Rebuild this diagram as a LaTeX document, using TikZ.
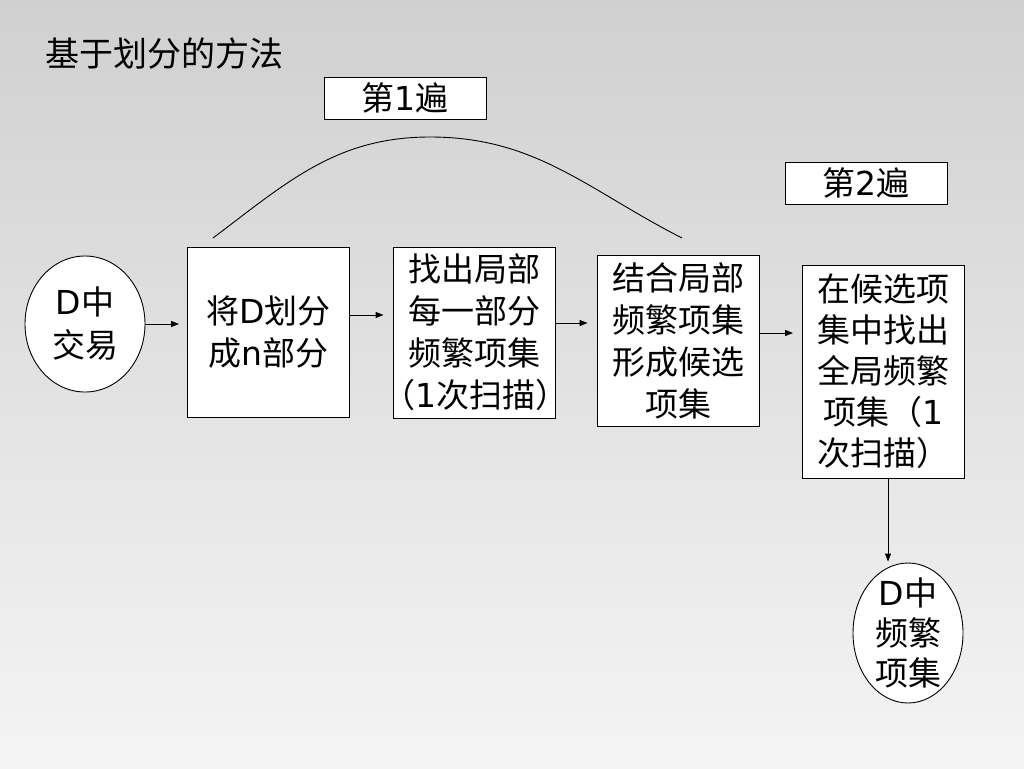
\documentclass[tikz,border=0pt]{standalone}
\usepackage{fontspec}
\setmainfont{Noto Sans CJK SC}
\newfontfamily\latfont{DejaVu Sans}
\newcommand\latn[1]{{\latfont #1}}
\usetikzlibrary{shapes.geometric,arrows.meta}
\definecolor{bgtop}{RGB}{190,190,190}
\pgfdeclareverticalshading{bgshade}{100bp}{color(0bp)=(white); color(10bp)=(white); color(100bp)=(bgtop)}
\begin{document}
\begin{tikzpicture}[x=1pt,y=-1pt,
  every node/.style={inner sep=0pt, font=\fontsize{33}{42}\selectfont},
  box/.style={draw=black, line width=0.9pt, fill=white, align=center, text width=150pt, inner xsep=6pt},
  oval/.style={draw=black, ellipse, fill=white, line width=0.9pt, align=center},
  arr/.style={-{Triangle[length=8pt,width=6pt]}, line width=0.9pt},
  curveline/.style={line width=0.9pt}
]
\useasboundingbox (0,0) rectangle (1024,768);
\shade[shading=bgshade] (0,0) rectangle (1024,768);

\node[anchor=west, font=\fontsize{34}{40}\selectfont] (title) at (45,54) {基于划分的方法};

\node[box, minimum height=42pt] (p1) at (405,98) {第\latn{1}遍};
\node[box, minimum height=42pt] (p2) at (866,183) {第\latn{2}遍};

\node[oval, minimum width=120pt, minimum height=136pt, font=\fontsize{33}{43}\selectfont] (e1) at (85,324) {\latn{D}中\\交易};
\node[box, minimum height=170pt] (b2) at (268.5,332) {将\latn{D}划分\\成\latn{n}部分};
\node[box, minimum height=171pt] (b3) at (474,332.5) {找出局部\\每一部分\\频繁项集\\\hspace*{-0.5em}（\latn{1}次扫描）\hspace*{-0.5em}};
\node[box, minimum height=171pt] (b4) at (678,341) {结合局部\\频繁项集\\形成候选\\项集};
\node[box, minimum height=213pt, font=\fontsize{33}{41}\selectfont] (b5) at (883.5,371.5) {在候选项\\集中找出\\全局频繁\\项集（\latn{1}\\次扫描）};
\node[oval, minimum width=110pt, minimum height=140pt, inner ysep=-8pt, font=\fontsize{33}{40}\selectfont] (e2) at (908,633) {\latn{D}中\\频繁\\项集};

\draw[arr, shorten >=8pt] (e1.east) -- (e1.east -| b2.west);
\draw[arr, shorten >=9pt] ([yshift=17pt]b2.east) coordinate (s2) -- (s2 -| b3.west);
\draw[arr, shorten >=9pt] ([yshift=9.5pt]b3.east) coordinate (s3) -- (s3 -| b4.west);
\draw[arr, shorten >=9pt] ([yshift=8pt]b4.east) coordinate (s4) -- (s4 -| b5.west);
\draw[arr, shorten >=1pt] ([xshift=4.5pt]b5.south) coordinate (s5) -- (s5 |- e2.north);

\coordinate (c1) at (213,238);
\coordinate (cp) at (430,137);
\coordinate (c2) at (682,238);
\draw[curveline] (c1) to[out=37,in=180] (cp) to[out=0,in=153] (c2);
\end{tikzpicture}
\end{document}
